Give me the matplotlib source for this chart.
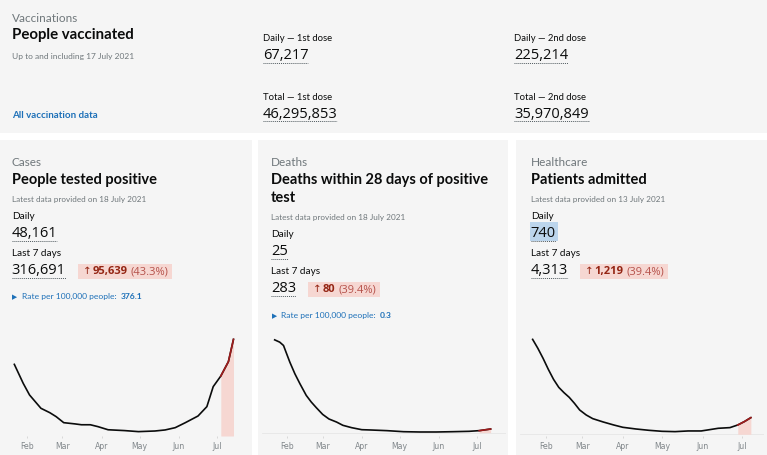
import matplotlib
matplotlib.use('Agg')
import matplotlib.pyplot as plt
import matplotlib.dates as mdates
from matplotlib.patches import Rectangle
from matplotlib.lines import Line2D
import pandas as pd

W, H = 767, 455

# ---- data ----
vacc_labels = ['Daily — 1st dose', 'Total — 1st dose', 'Daily — 2nd dose', 'Total — 2nd dose']
vacc_values = ['67,217', '46,295,853', '225,214', '35,970,849']

card_captions = ['Cases', 'Deaths', 'Healthcare']
card_titles = [['People tested positive'], ['Deaths within 28 days of positive', 'test'], ['Patients admitted']]
card_dates = ['18 July 2021', '18 July 2021', '13 July 2021']
daily_values = ['48,161', '25', '740']
week_values = ['316,691', '283', '4,313']
week_change = ['95,639', '80', '1,219']
week_pct = ['43.3%', '39.4%', '39.4%']
rate_values = ['376.1', '0.3', None]

cases_dates = ['2021-01-22', '2021-01-29', '2021-02-03', '2021-02-12', '2021-02-19', '2021-02-24',
               '2021-03-02', '2021-03-11', '2021-03-16', '2021-03-23', '2021-03-29', '2021-04-06',
               '2021-04-19', '2021-04-30', '2021-05-13', '2021-05-21', '2021-05-29', '2021-06-06',
               '2021-06-16', '2021-06-23', '2021-06-28', '2021-07-04', '2021-07-10', '2021-07-14']
cases_values = [34400, 25300, 19700, 13300, 11200, 9300, 6400, 5800, 5400, 5400, 4500, 3000,
                2600, 2100, 2400, 2900, 4000, 6400, 9600, 14100, 23700, 28800, 35700, 46400]

deaths_dates = ['2021-01-22', '2021-01-26', '2021-01-29', '2021-01-31', '2021-02-03', '2021-02-07',
                '2021-02-11', '2021-02-16', '2021-02-20', '2021-02-24', '2021-03-01', '2021-03-06',
                '2021-03-12', '2021-03-17', '2021-03-24', '2021-04-01', '2021-04-08', '2021-04-21',
                '2021-05-04', '2021-05-17', '2021-05-30', '2021-06-12', '2021-06-25', '2021-07-03',
                '2021-07-12']
deaths_values = [1250, 1219, 1174, 1084, 950, 793, 659, 502, 412, 336, 246, 184, 143, 99, 67,
                 40, 36, 27, 13, 9, 9, 13, 18, 27, 49]

admit_dates = ['2021-01-22', '2021-01-26', '2021-01-30', '2021-02-03', '2021-02-07', '2021-02-11',
               '2021-02-15', '2021-02-19', '2021-02-23', '2021-02-27', '2021-03-04', '2021-03-09',
               '2021-03-17', '2021-03-25', '2021-04-01', '2021-04-11', '2021-04-21', '2021-05-01',
               '2021-05-11', '2021-05-21', '2021-05-31', '2021-06-05', '2021-06-13', '2021-06-22',
               '2021-06-28', '2021-07-03', '2021-07-08']
admit_values = [3500, 3170, 2800, 2395, 2026, 1731, 1535, 1363, 1142, 896, 712, 577, 454, 344,
                258, 196, 147, 110, 98, 123, 123, 160, 221, 246, 344, 467, 614]

highlight_start = ['2021-07-04', '2021-07-03', '2021-06-28']

# ---- style ----
DARK = '#0b0c0c'
GREY = '#6f777b'
BLUE = '#1d70b8'
RED = '#942514'
PINK = '#f6d7d2'
PANEL = '#f5f5f5'
SANS = ['Lato', 'DejaVu Sans']
NUM = ['Open Sans', 'DejaVu Sans']

fig = plt.figure(figsize=(W / 100, H / 100), dpi=100)
fig.patch.set_facecolor('white')
r = fig.canvas.get_renderer()


def put(x, y, s, size, color=DARK, weight='normal', family=SANS):
    return fig.text(x / W, 1 - y / H, s, fontsize=size, color=color, fontweight=weight,
                    family=family, va='baseline', ha='left', zorder=3)


def box(x0, y0, x1, y1, color, z=-5):
    fig.add_artist(Rectangle((x0 / W, 1 - y1 / H), (x1 - x0) / W, (y1 - y0) / H,
                             transform=fig.transFigure, facecolor=color, edgecolor='none', zorder=z))


def underline(t, y):
    bb = t.get_window_extent(r)
    fig.add_artist(Line2D([bb.x0 / W, bb.x1 / W], [1 - y / H] * 2, transform=fig.transFigure,
                          color='#505a5f', lw=0.7, ls=(0, (1, 1)), zorder=3))


def number(x, y, s, uy):
    t = put(x, y, s, 10.5, family=NUM)
    underline(t, uy)
    return t


# panels
box(0, 0, W, 133, PANEL)
for x0, x1 in [(0, 252), (258, 508), (516, W)]:
    box(x0, 140, x1, H, PANEL)

# vaccinations header
put(11.7, 21.5, 'Vaccinations', 8.5, color=GREY)
put(11.7, 39.3, 'People vaccinated', 10.8, weight='bold')
put(11.7, 59, 'Up to and including 17 July 2021', 6, color=GREY)
put(11.7, 118, 'All vaccination data', 7, color=BLUE, weight='bold')

vx = [262.7, 262.7, 514, 514]
vy = [41.3, 99.7, 41.3, 99.7]
for lab, val, x, y in zip(vacc_labels, vacc_values, vx, vy):
    put(x, y, lab, 6.8)
    number(x, y + 18, val, y + 21.5)

# cards
text_x = [11.7, 271, 530.7]
for i in range(3):
    x = text_x[i]
    put(x, 165.5, card_captions[i], 8.5, color=GREY)
    for k, line in enumerate(card_titles[i]):
        put(x, 184 + k * 17.7, line, 10.5, weight='bold')
    off = 17.7 * (len(card_titles[i]) - 1)
    put(x, 202.3 + off, 'Latest data provided on ' + card_dates[i], 5.9, color=GREY)
    put(x, 219 + off, 'Daily', 7.2)
    d = number(x, 237 + off, daily_values[i], 241 + off)
    if i == 2:
        bb = d.get_window_extent(r)
        box(bb.x0 - 1, 222.3, bb.x1 + 2, 241, '#bcd5ec', z=1)
    put(x, 256 + off, 'Last 7 days', 7.2)
    wv = number(x, 274.3 + off, week_values[i], 278.3 + off)
    # change badge
    bx = wv.get_window_extent(r).x1 + 12
    by = 274.3 + off
    a = put(bx + 5, by, '↑', 7.5, color=RED, family=['DejaVu Sans'])
    bb = a.get_window_extent(r)
    b = put(bb.x1 + 1, by, week_change[i], 8, color=RED, weight='bold', family=NUM)
    bb = b.get_window_extent(r)
    c = put(bb.x1 + 3, by, '(' + week_pct[i] + ')', 8, color='#b5514a', family=NUM)
    bb = c.get_window_extent(r)
    box(bx, by - 10, bb.x1 + 4, by + 4.7, PINK, z=1)
    if rate_values[i] is not None:
        ry = 299 + off * 1.07
        put(x + 0.5, ry, '▶', 4.8, color=BLUE, family=['DejaVu Sans'])
        t = put(x + 10, ry, 'Rate per 100,000 people:', 6.1, color=BLUE)
        bb = t.get_window_extent(r)
        put(bb.x1 + 4, ry, rate_values[i], 6.1, color=BLUE, weight='bold')

# charts
series = [(cases_dates, cases_values), (deaths_dates, deaths_values), (admit_dates, admit_values)]
feb_px = [27, 287.3, 545.7]
px_per_day = [1.2667, 1.2627, 1.3067]
ax_span = [(5, 248), (262, 506), (520, 764)]
ylims = [(0, 53300), (-45, 1450), (-63, 4030)]
feb1 = mdates.date2num(pd.Timestamp('2021-02-01'))

for i, (dates, vals) in enumerate(series):
    L, R = ax_span[i]
    ax = fig.add_axes([L / W, 1 - 436 / H, (R - L) / W, 111 / H])
    ax.set_facecolor('none')
    d = pd.to_datetime(dates)
    v = pd.Series(vals, index=d)
    ax.axhline(0, color='#e6e6e6', lw=0.6, zorder=0)
    ax.plot(d, vals, color=DARK, lw=1.2, zorder=2)
    hs = pd.Timestamp(highlight_start[i])
    hv = v[v.index >= hs]
    ax.fill_between(hv.index, 0, hv.values, color=PINK, lw=0, zorder=1)
    ax.plot(hv.index, hv.values, color='#a01c1c', lw=1.2, zorder=3)
    ax.set_xlim(feb1 + (L - feb_px[i]) / px_per_day[i], feb1 + (R - feb_px[i]) / px_per_day[i])
    ax.set_ylim(*ylims[i])
    ax.xaxis.set_major_locator(mdates.MonthLocator())
    ax.xaxis.set_major_formatter(mdates.DateFormatter('%b'))
    ax.tick_params(axis='x', length=1.5, width=0.5, color='#cccccc', labelsize=5.6,
                   labelcolor='#80868a', pad=3)
    ax.set_yticks([])
    for s in ax.spines.values():
        s.set_visible(False)

fig.savefig('out.png', dpi=100)
